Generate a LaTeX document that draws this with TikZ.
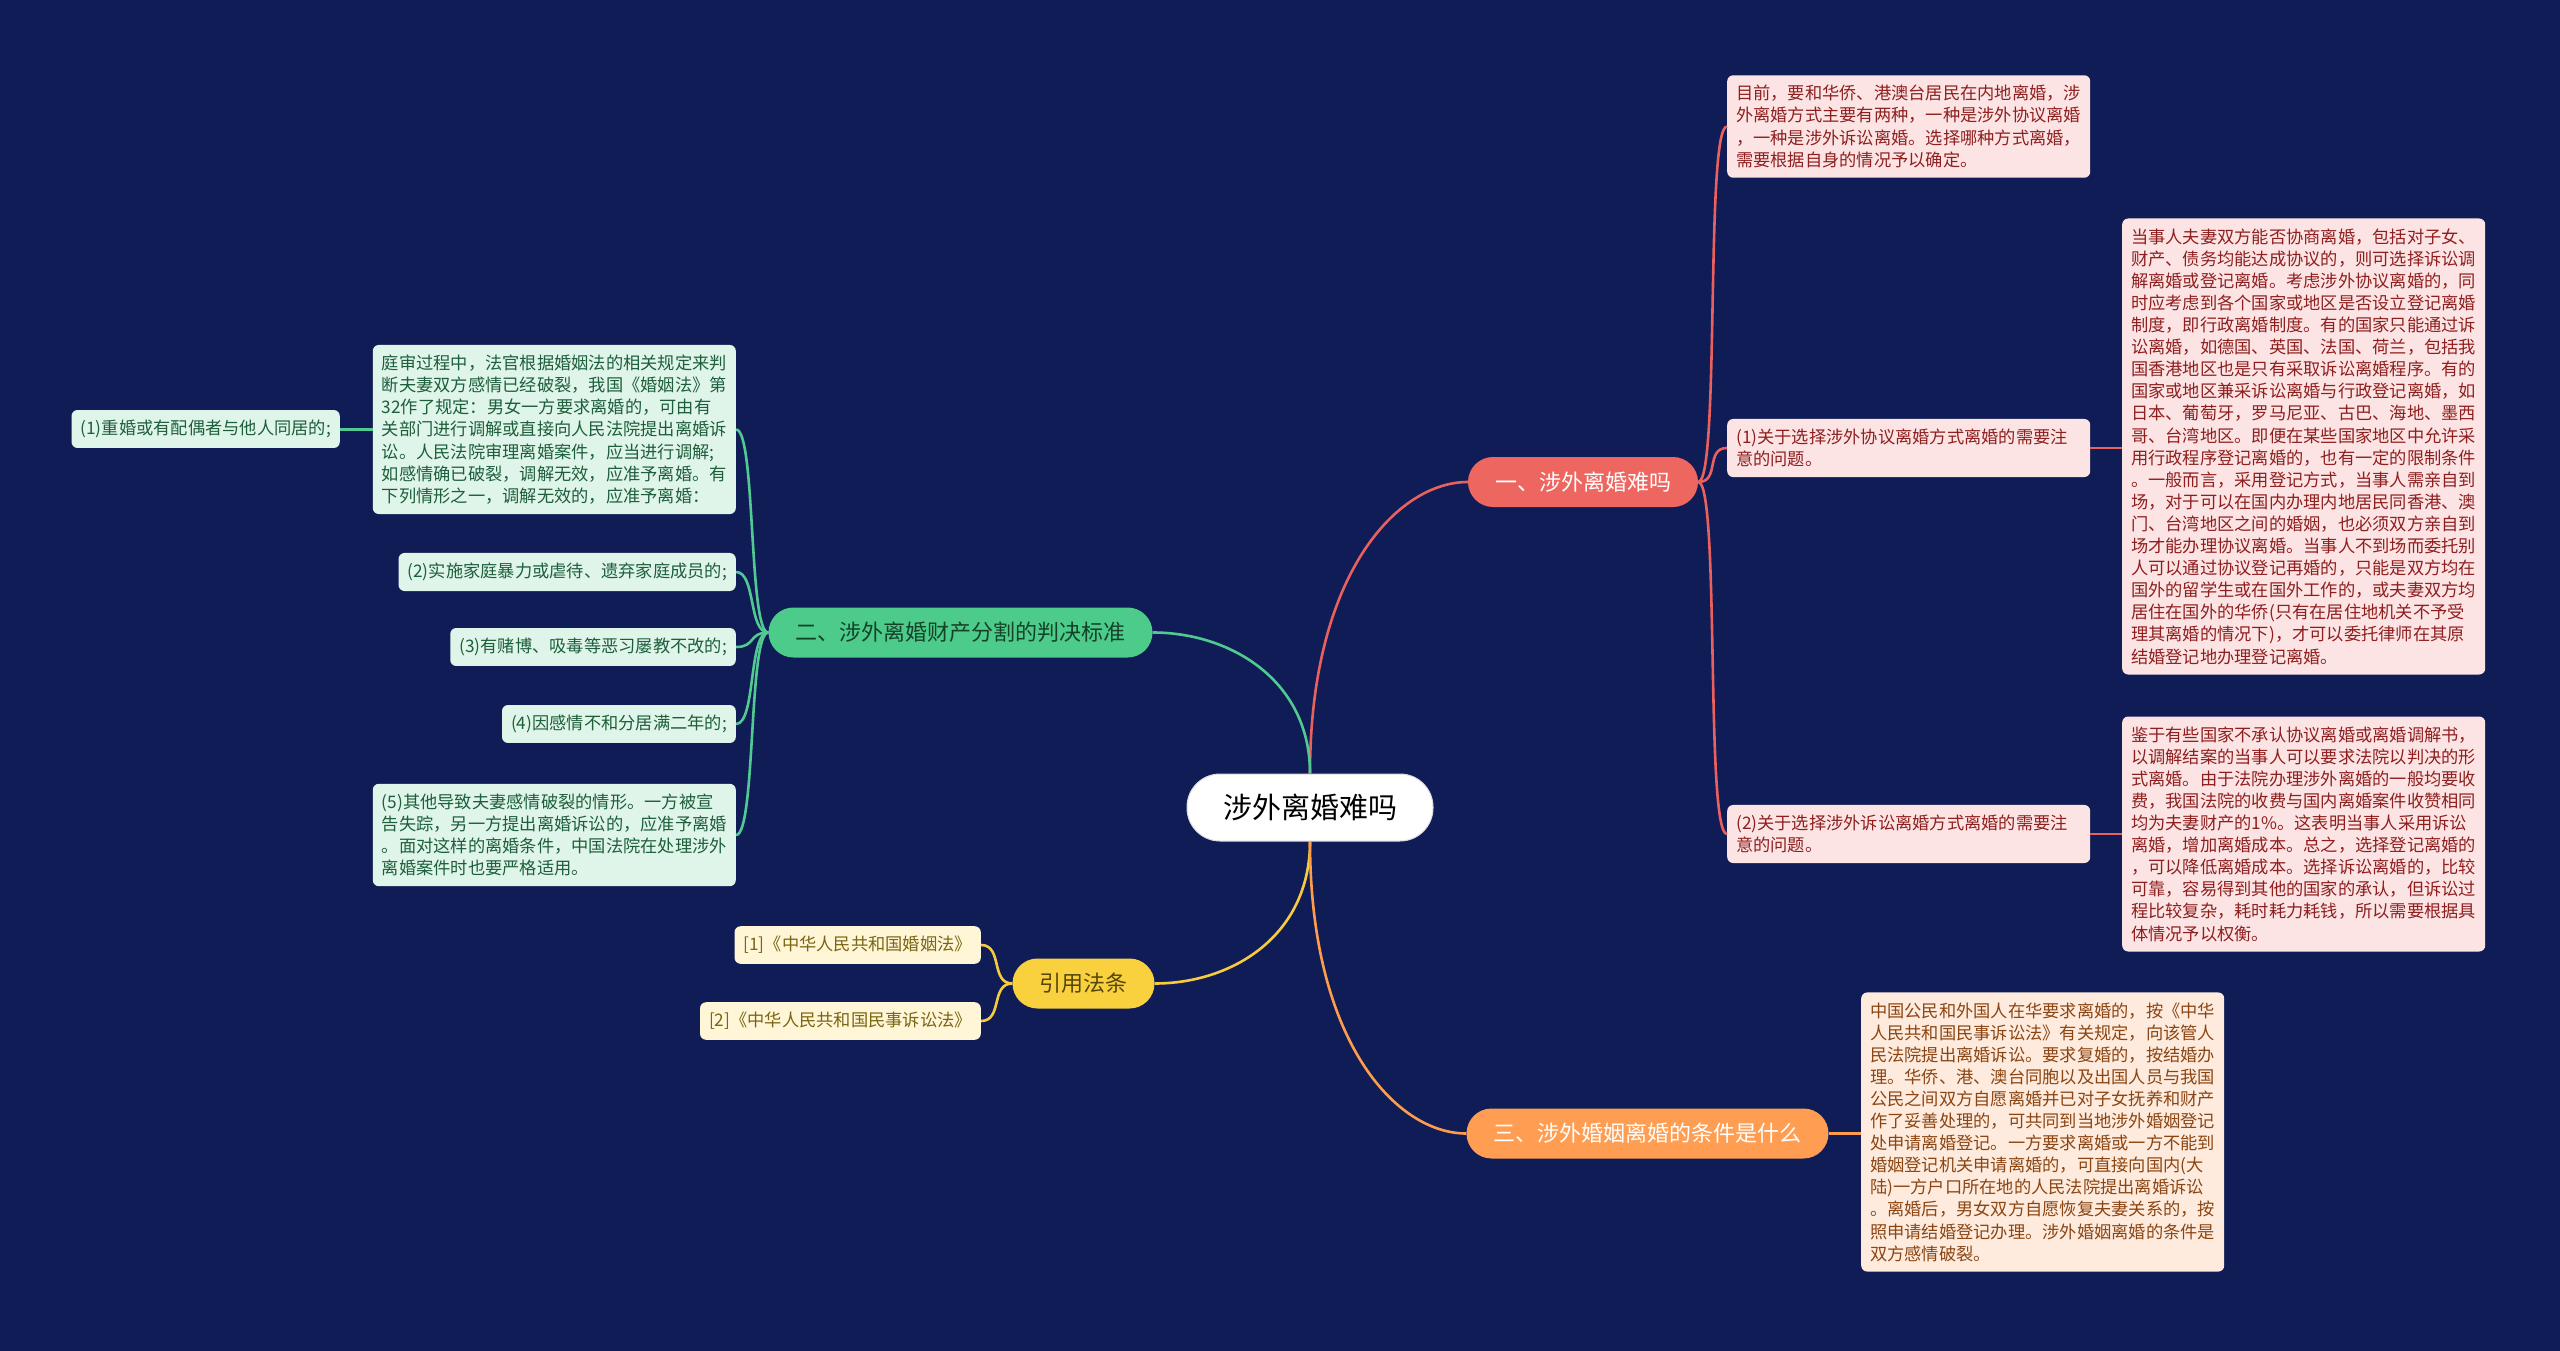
\documentclass[tikz,border=0pt]{standalone}
\usepackage{fontspec}
\setmainfont{Noto Sans CJK SC}
\definecolor{bg}{HTML}{0F1C55}
\definecolor{redln}{HTML}{E8615E}
\definecolor{redfill}{HTML}{EE6660}
\definecolor{pinkfill}{HTML}{FDE4E4}
\definecolor{pinktext}{HTML}{8E1F1F}
\definecolor{grnln}{HTML}{52C993}
\definecolor{grnfill}{HTML}{4CCB8B}
\definecolor{grnleaf}{HTML}{E0F5EA}
\definecolor{grntext}{HTML}{1D5E3B}
\definecolor{yelln}{HTML}{F6CB3F}
\definecolor{yelfill}{HTML}{F9D03E}
\definecolor{yelleaf}{HTML}{FFF6D8}
\definecolor{yeltext}{HTML}{7A6512}
\definecolor{orgln}{HTML}{FF9B4C}
\definecolor{orgfill}{HTML}{FF9E52}
\definecolor{orgleaf}{HTML}{FEEBDD}
\definecolor{orgtext}{HTML}{8B4513}
\newcommand\leafsize{\fontsize{17.25}{22.1}\selectfont}
\newcommand\branchsize{\fontsize{22}{26}\selectfont}
\newcommand\rootsize{\fontsize{29}{34}\selectfont}
\tikzset{
  leafbox/.style={rounded corners=6, inner xsep=9, inner ysep=10, font=\leafsize, align=left},
  bigleaf/.style={leafbox, text width=345},
  smallleaf/.style={leafbox, minimum height=37},
  pinkleaf/.style={fill=pinkfill, text=pinktext},
  grnleafs/.style={fill=grnleaf, text=grntext},
  yelleafs/.style={fill=yelleaf, text=yeltext},
  orgleafs/.style={fill=orgleaf, text=orgtext},
  branchbox/.style={rounded corners=25, minimum height=50, inner xsep=27, font=\branchsize},
  conn/.style={line width=2.6pt},
}
\begin{document}
\begin{tikzpicture}[x=1pt,y=-1pt]
\useasboundingbox (0,0) rectangle (2560,1351);
\fill[bg] (0,0) rectangle (2560,1351);

% root and branches
\node[fill=white, draw=white!85!black, line width=1pt, rounded corners=33, minimum width=246, minimum height=67, font=\rootsize, text=black] (root) at (1310,807.5) {涉外离婚难吗};
\node[branchbox, fill=redfill, text=white] (b1) at (1583,482) {一、涉外离婚难吗};
\node[branchbox, fill=grnfill, text=grntext!70!black] (b2) at (960.5,632.5) {二、涉外离婚财产分割的判决标准};
\node[branchbox, fill=yelfill, text=yeltext!70!black] (b3) at (1083.5,983.5) {引用法条};
\node[branchbox, fill=orgfill, text=white] (b4) at (1647.5,1133.5) {三、涉外婚姻离婚的条件是什么};

% branch 1 leaves
\node[bigleaf, pinkleaf, anchor=west] (r1) at (1727,126.5) {目前，要和华侨、港澳台居民在内地离婚，涉\\外离婚方式主要有两种，一种是涉外协议离婚\\，一种是涉外诉讼离婚。选择哪种方式离婚，\\需要根据自身的情况予以确定。};
\node[bigleaf, pinkleaf, anchor=west] (r2) at (1727,448) {(1)关于选择涉外协议离婚方式离婚的需要注\\意的问题。};
\node[bigleaf, pinkleaf, anchor=west] (r2a) at (2122,446.5) {当事人夫妻双方能否协商离婚，包括对子女、\\财产、债务均能达成协议的，则可选择诉讼调\\解离婚或登记离婚。考虑涉外协议离婚的，同\\时应考虑到各个国家或地区是否设立登记离婚\\制度，即行政离婚制度。有的国家只能通过诉\\讼离婚，如德国、英国、法国、荷兰，包括我\\国香港地区也是只有采取诉讼离婚程序。有的\\国家或地区兼采诉讼离婚与行政登记离婚，如\\日本、葡萄牙，罗马尼亚、古巴、海地、墨西\\哥、台湾地区。即便在某些国家地区中允许采\\用行政程序登记离婚的，也有一定的限制条件\\。一般而言，采用登记方式，当事人需亲自到\\场，对于可以在国内办理内地居民同香港、澳\\门、台湾地区之间的婚姻，也必须双方亲自到\\场才能办理协议离婚。当事人不到场而委托别\\人可以通过协议登记再婚的，只能是双方均在\\国外的留学生或在国外工作的，或夫妻双方均\\居住在国外的华侨(只有在居住地机关不予受\\理其离婚的情况下)，才可以委托律师在其原\\结婚登记地办理登记离婚。};
\node[bigleaf, pinkleaf, anchor=west] (r3) at (1727,834) {(2)关于选择涉外诉讼离婚方式离婚的需要注\\意的问题。};
\node[bigleaf, pinkleaf, anchor=west] (r3a) at (2122,834) {鉴于有些国家不承认协议离婚或离婚调解书，\\以调解结案的当事人可以要求法院以判决的形\\式离婚。由于法院办理涉外离婚的一般均要收\\费，我国法院的收费与国内离婚案件收赞相同\\均为夫妻财产的1\%。这表明当事人采用诉讼\\离婚，增加离婚成本。总之，选择登记离婚的\\，可以降低离婚成本。选择诉讼离婚的，比较\\可靠，容易得到其他的国家的承认，但诉讼过\\程比较复杂，耗时耗力耗钱，所以需要根据具\\体情况予以权衡。};

% branch 4 leaf
\node[bigleaf, orgleafs, anchor=west] (o1) at (1861,1132) {中国公民和外国人在华要求离婚的，按《中华\\人民共和国民事诉讼法》有关规定，向该管人\\民法院提出离婚诉讼。要求复婚的，按结婚办\\理。华侨、港、澳台同胞以及出国人员与我国\\公民之间双方自愿离婚并已对子女抚养和财产\\作了妥善处理的，可共同到当地涉外婚姻登记\\处申请离婚登记。一方要求离婚或一方不能到\\婚姻登记机关申请离婚的，可直接向国内(大\\陆)一方户口所在地的人民法院提出离婚诉讼\\。离婚后，男女双方自愿恢复夫妻关系的，按\\照申请结婚登记办理。涉外婚姻离婚的条件是\\双方感情破裂。};

% branch 2 leaves
\node[bigleaf, grnleafs, anchor=east] (g1) at (736,429.5) {庭审过程中，法官根据婚姻法的相关规定来判\\断夫妻双方感情已经破裂，我国《婚姻法》第\\32作了规定：男女一方要求离婚的，可由有\\关部门进行调解或直接向人民法院提出离婚诉\\讼。人民法院审理离婚案件，应当进行调解;\\如感情确已破裂，调解无效，应准予离婚。有\\下列情形之一，调解无效的，应准予离婚：};
\node[smallleaf, grnleafs, anchor=east] (g1a) at (340,429) {(1)重婚或有配偶者与他人同居的;};
\node[smallleaf, grnleafs, anchor=east] (g2) at (736,572) {(2)实施家庭暴力或虐待、遗弃家庭成员的;};
\node[smallleaf, grnleafs, anchor=east] (g3) at (736,647) {(3)有赌博、吸毒等恶习屡教不改的;};
\node[smallleaf, grnleafs, anchor=east] (g4) at (736,724) {(4)因感情不和分居满二年的;};
\node[bigleaf, grnleafs, anchor=east] (g5) at (736,835) {(5)其他导致夫妻感情破裂的情形。一方被宣\\告失踪，另一方提出离婚诉讼的，应准予离婚\\。面对这样的离婚条件，中国法院在处理涉外\\离婚案件时也要严格适用。};

% branch 3 leaves
\node[smallleaf, yelleafs, anchor=east] (y1) at (981,945) {[1]《中华人民共和国婚姻法》};
\node[smallleaf, yelleafs, anchor=east] (y2) at (981,1021) {[2]《中华人民共和国民事诉讼法》};

% root connectors
\draw[conn, redln] (root.north) .. controls +(0,-200) and +(-70,0) .. (b1.west);
\draw[conn, grnln] (root.north) .. controls +(0,-93) and +(78,0) .. (b2.east);
\draw[conn, yelln] (root.south) .. controls +(0,94) and +(78,0) .. (b3.east);
\draw[conn, orgln] (root.south) .. controls +(0,200) and +(-70,0) .. (b4.west);

% branch 1 connectors
\foreach \t in {r1,r2,r3}
  \draw[conn, redln] (b1.east) .. controls +(22,0) and +(-22,0) .. (\t.west);
\draw[conn, redln] (r2.east) -- (r2a.west |- r2.east);
\draw[conn, redln] (r3.east) -- (r3a.west |- r3.east);
\draw[conn, orgln] (b4.east) -- (o1.west |- b4.east);

% branch 2 connectors
\foreach \t in {g1,g2,g3,g4,g5}
  \draw[conn, grnln] (b2.west) .. controls +(-20,0) and +(20,0) .. (\t.east);
\draw[conn, grnln] (g1.west) -- (g1a.east |- g1.west);

% branch 3 connectors
\foreach \t in {y1,y2}
  \draw[conn, yelln] (b3.west) .. controls +(-22,0) and +(22,0) .. (\t.east);
\end{tikzpicture}
\end{document}
